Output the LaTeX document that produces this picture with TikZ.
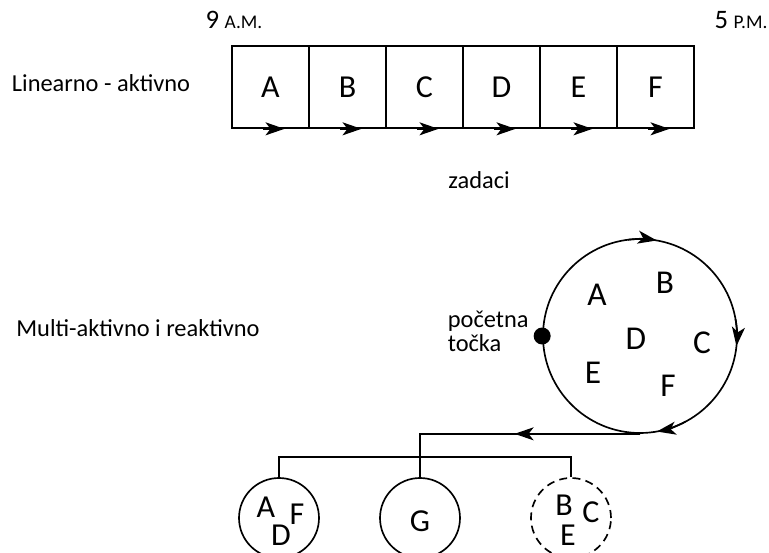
\documentclass[tikz,border=0pt]{standalone}
\usepackage{fontspec}
\setmainfont{Carlito}
\usetikzlibrary{arrows.meta,calc}
\begin{document}
\begin{tikzpicture}[x=0.75pt,y=-0.75pt,
  line width=1.25pt,
  lbl/.style={font=\fontsize{18.3}{21}\selectfont, inner sep=0pt},
  big/.style={font=\fontsize{25}{28}\selectfont, inner sep=0pt},
  mid/.style={font=\fontsize{24}{27}\selectfont, inner sep=0pt},
  cell/.style={draw, minimum width=77*0.75pt, minimum height=82*0.75pt, inner sep=0pt, font=\fontsize{24}{27}\selectfont},
  tip/.style={-{Stealth[length=19pt*0.75,width=13pt*0.75,inset=5pt*0.75]}},
  grp/.style={draw, circle, minimum size=80*0.75pt, inner sep=0pt}]
\useasboundingbox (0,0) rectangle (769,553);
% top section
\node[lbl] (am) at (234,20) {{\fontsize{20}{21}\selectfont 9} \fontsize{14.5}{16}\selectfont A.M.};
\node[lbl] (pm) at (741,20) {{\fontsize{20}{21}\selectfont 5} \fontsize{14.5}{16}\selectfont P.M.};
\node[lbl] (lin) at (101,83) {Linearno - aktivno};
\node[cell] (A) at (270.5,87) {A};
\node[cell] (B) at (347.5,87) {B};
\node[cell] (C) at (424.5,87) {C};
\node[cell] (D) at (501.5,87) {D};
\node[cell] (E) at (578.5,87) {E};
\node[cell] (F) at (655.5,87) {F};
\foreach \n in {A,B,C,D,E,F}{
  \draw[tip] ($(\n.south)+(-8,0)$) -- ($(\n.south)+(14,0)$);
}
\node[lbl] (zad) at (479,180) {zadaci};
% middle section
\node[lbl] (multi) at (138,328) {Multi-aktivno i reaktivno};
\node[draw, circle, minimum size=194*0.75pt, inner sep=0pt] (ring) at (640,336) {};
\draw[tip] ($(ring.center)+(-97:97)$) arc (-97:-80:97);
\draw[tip] ($(ring.center)+(-10:97)$) arc (-10:6:97);
\draw[tip] ($(ring.center)+(62:97)$) arc (62:80:97);
\node[circle, fill, minimum size=17*0.75pt, inner sep=0pt] (start) at (ring.west) {};
\node[lbl, align=left, anchor=west] (poc) at (447,331) {početna\\[-3pt]točka};
\node[big] (rA) at (597,295) {A};
\node[big] (rB) at (665,283) {B};
\node[big] (rD) at (636,339) {D};
\node[big] (rC) at (702,343) {C};
\node[big] (rE) at (593,373) {E};
\node[big] (rF) at (668,386) {F};
% bottom section
\node[grp] (g1) at (279,518) {};
\node[grp] (g2) at (420,518) {};
\node[grp, dashed, dash pattern=on 6pt off 4pt] (g3) at (571,518) {};
\node[mid] at (266,507) {A};
\node[mid] at (297,514) {F};
\node[mid] at (281,535) {D};
\node[mid] at (420,521) {G};
\node[mid] at (564,505) {B};
\node[mid] at (591,512) {C};
\node[mid] at (568,535) {E};
\coordinate (j) at (g2.north |- ring.south);
\draw (ring.south) -- (j) -- (g2.north);
\draw[tip] (ring.south) -- ($(ring.south)!0.57!(j)$);
\draw (g1.north) -- ++(0,-20) -| (g3.north);
\end{tikzpicture}
\end{document}
